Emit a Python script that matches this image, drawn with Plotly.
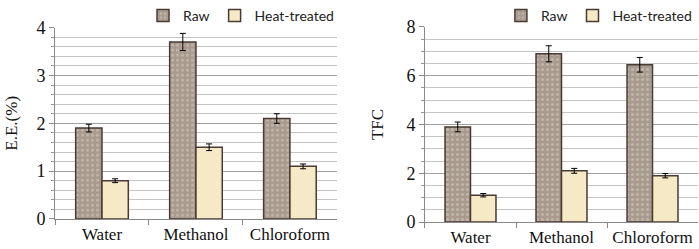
import plotly.graph_objects as go

categories = ["Water", "Methanol", "Chloroform"]
ee_raw = [1.9, 3.7, 2.1]
ee_raw_err = [0.08, 0.18, 0.1]
ee_heat = [0.8, 1.5, 1.1]
ee_heat_err = [0.04, 0.07, 0.05]
tfc_raw = [3.9, 6.9, 6.45]
tfc_raw_err = [0.2, 0.33, 0.3]
tfc_heat = [1.1, 2.1, 1.9]
tfc_heat_err = [0.07, 0.1, 0.09]

raw_fill = "#a89a8d"
heat_fill = "#f6e9c6"
edge = "#4a3a33"

def raw_bar(y, err, xa, ya, leg):
    return go.Bar(x=categories, y=y, name="Raw", xaxis=xa, yaxis=ya, legend=leg,
                  marker=dict(color=raw_fill, line=dict(color=edge, width=1.5),
                              pattern=dict(shape=".", fgcolor="#d8cfc6", bgcolor=raw_fill,
                                           size=5, solidity=0.3)),
                  error_y=dict(type="data", array=err, color="black", thickness=1, width=3))

def heat_bar(y, err, xa, ya, leg):
    return go.Bar(x=categories, y=y, name="Heat-treated", xaxis=xa, yaxis=ya, legend=leg,
                  marker=dict(color=heat_fill, line=dict(color=edge, width=1.5)),
                  error_y=dict(type="data", array=err, color="black", thickness=1, width=3))

fig = go.Figure()
fig.add_trace(raw_bar(ee_raw, ee_raw_err, "x", "y", "legend"))
fig.add_trace(heat_bar(ee_heat, ee_heat_err, "x", "y", "legend"))
fig.add_trace(raw_bar(tfc_raw, tfc_raw_err, "x2", "y2", "legend2"))
fig.add_trace(heat_bar(tfc_heat, tfc_heat_err, "x2", "y2", "legend2"))

serif = "Liberation Serif, Times New Roman, serif"
sans = "Lato, Liberation Sans, sans-serif"

xcommon = dict(showline=True, linecolor="#888", linewidth=1, ticks="outside",
               tickson="boundaries", ticklen=5, tickcolor="#888", showgrid=False,
               tickfont=dict(family=serif, size=17, color="#111"))
ycommon = dict(showline=True, linecolor="#888", linewidth=1, ticks="outside", ticklen=5,
               tickcolor="#888", showgrid=True, gridcolor="#a0a0a0", gridwidth=1,
               zeroline=False, tickfont=dict(family=serif, size=18, color="#111"),
               title_font=dict(family=serif, size=17, color="#111"))

legcommon = dict(orientation="h", yanchor="top", y=1.0, itemwidth=30,
                 font=dict(family=sans, size=14, color="#222"),
                 bgcolor="rgba(0,0,0,0)", traceorder="normal", tracegroupgap=0)

fig.update_layout(
    width=699, height=249, margin=dict(l=0, r=0, t=0, b=0, autoexpand=False),
    paper_bgcolor="white", plot_bgcolor="white",
    barmode="group", bargap=0.44, bargroupgap=0,
    xaxis=dict(domain=[0.0787, 0.482], anchor="y", **xcommon),
    yaxis=dict(domain=[0.1205, 0.889], anchor="x", range=[0, 4], dtick=1,
               title=dict(text="E.E.(%)", standoff=14),
               minor=dict(dtick=0.2, showgrid=True, gridcolor="#c4c4c4", ticks="outside",
                          ticklen=3, tickcolor="#999"),
               **ycommon),
    xaxis2=dict(domain=[0.608, 0.9986], anchor="y2", **xcommon),
    yaxis2=dict(domain=[0.1084, 0.8916], anchor="x2", range=[0, 8], dtick=2,
                title=dict(text="TFC", standoff=18),
                minor=dict(dtick=0.5, showgrid=True, gridcolor="#c4c4c4", ticks="outside",
                           ticklen=3, tickcolor="#999"),
                **ycommon),
    legend=dict(x=0.485, xanchor="right", **legcommon),
    legend2=dict(x=0.997, xanchor="right", **legcommon),
)

fig.write_html("out.html", config={"displayModeBar": False},
               post_script="document.body.style.margin='0px';document.body.style.overflow='hidden';")
